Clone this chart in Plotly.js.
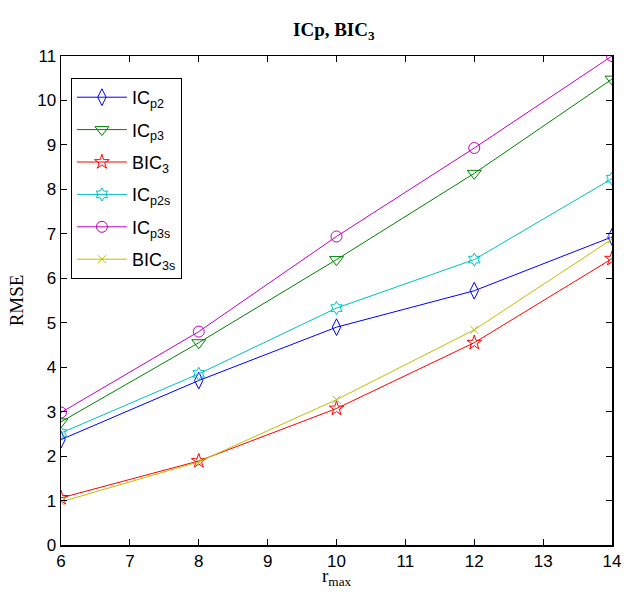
<!DOCTYPE html>
<html>
<head>
<meta charset="utf-8">
<script src="https://cdn.plot.ly/plotly-3.0.1.min.js"></script>
<style>html,body{margin:0;padding:0;background:#fff;}#chart{width:624px;height:610px;}</style>
</head>
<body>
<div id="chart"></div>
<script>
const rmax = [6, 8, 10, 12, 14];
const ICp2  = [2.37, 3.70, 4.90, 5.72, 6.93];
const ICp3  = [2.77, 4.55, 6.42, 8.36, 10.48];
const BIC3  = [1.06, 1.89, 3.07, 4.55, 6.44];
const ICp2s = [2.52, 3.85, 5.33, 6.42, 8.24];
const ICp3s = [2.98, 4.80, 6.94, 8.93, 11.0];
const BIC3s = [0.97, 1.87, 3.27, 4.84, 6.88];

const names = ['IC<sub>p2</sub>', 'IC<sub>p3</sub>', 'BIC<sub>3</sub>', 'IC<sub>p2s</sub>', 'IC<sub>p3s</sub>', 'BIC<sub>3s</sub>'];
const series = [ICp2, ICp3, BIC3, ICp2s, ICp3s, BIC3s];
const colors = ['#0000ff', '#008000', '#ff0000', '#00bfbf', '#bf00bf', '#bfbf00'];
const symbols = ['diamond-tall-open', 'triangle-down-open', 'star-open', 'hexagram-open', 'circle-open', 'x-thin-open'];
const sizes = [12, 12, 11, 10, 11, 8];

const traces = series.map((ys, i) => ({
  x: rmax, y: ys, name: names[i], type: 'scatter', mode: 'lines+markers',
  legendgroup: 'g' + i,
  line: {color: colors[i], width: 1},
  marker: {symbol: symbols[i], size: sizes[i], color: colors[i], line: {color: colors[i], width: 1}}
}));

const axisCommon = {
  showgrid: false, zeroline: false, showline: true, linecolor: '#000', linewidth: 1.5,
  mirror: 'ticks', ticks: 'inside', ticklen: 6, tickcolor: '#000', tickwidth: 1,
  tickfont: {family: 'Liberation Sans, Arial, sans-serif', size: 17, color: '#000'}
};

const serif = 'Liberation Serif, Times New Roman, serif';

const layout = {
  width: 624, height: 610,
  margin: {l: 61, r: 12, t: 56, b: 65},
  paper_bgcolor: '#fff', plot_bgcolor: '#fff',
  title: {text: '<b>ICp, BIC<sub>3</sub></b>', x: 0.535, xanchor: 'center', y: 0.963,
    font: {family: serif, size: 19, color: '#000'}},
  xaxis: Object.assign({}, axisCommon, {range: [6, 14], tickvals: [6,7,8,9,10,11,12,13,14]}),
  yaxis: Object.assign({}, axisCommon, {range: [0, 11], tickvals: [0,1,2,3,4,5,6,7,8,9,10,11],
    title: {text: 'RMSE', standoff: 8, font: {family: serif, size: 19, color: '#000'}}}),
  annotations: [{text: 'r<sub>max</sub>', xref: 'paper', yref: 'paper', x: 0.5, y: -0.036,
    xanchor: 'center', yanchor: 'top', showarrow: false,
    font: {family: serif, size: 19, color: '#000'}}],
  legend: {x: 0.018, y: 0.955, xanchor: 'left', yanchor: 'top', bgcolor: '#fff',
    bordercolor: '#000', borderwidth: 1, itemwidth: 50, tracegroupgap: 6,
    font: {family: 'Liberation Sans, Arial, sans-serif', size: 18, color: '#000'}},
  showlegend: true
};

Plotly.newPlot('chart', traces, layout, {displayModeBar: false, staticPlot: true});
</script>
</body>
</html>
